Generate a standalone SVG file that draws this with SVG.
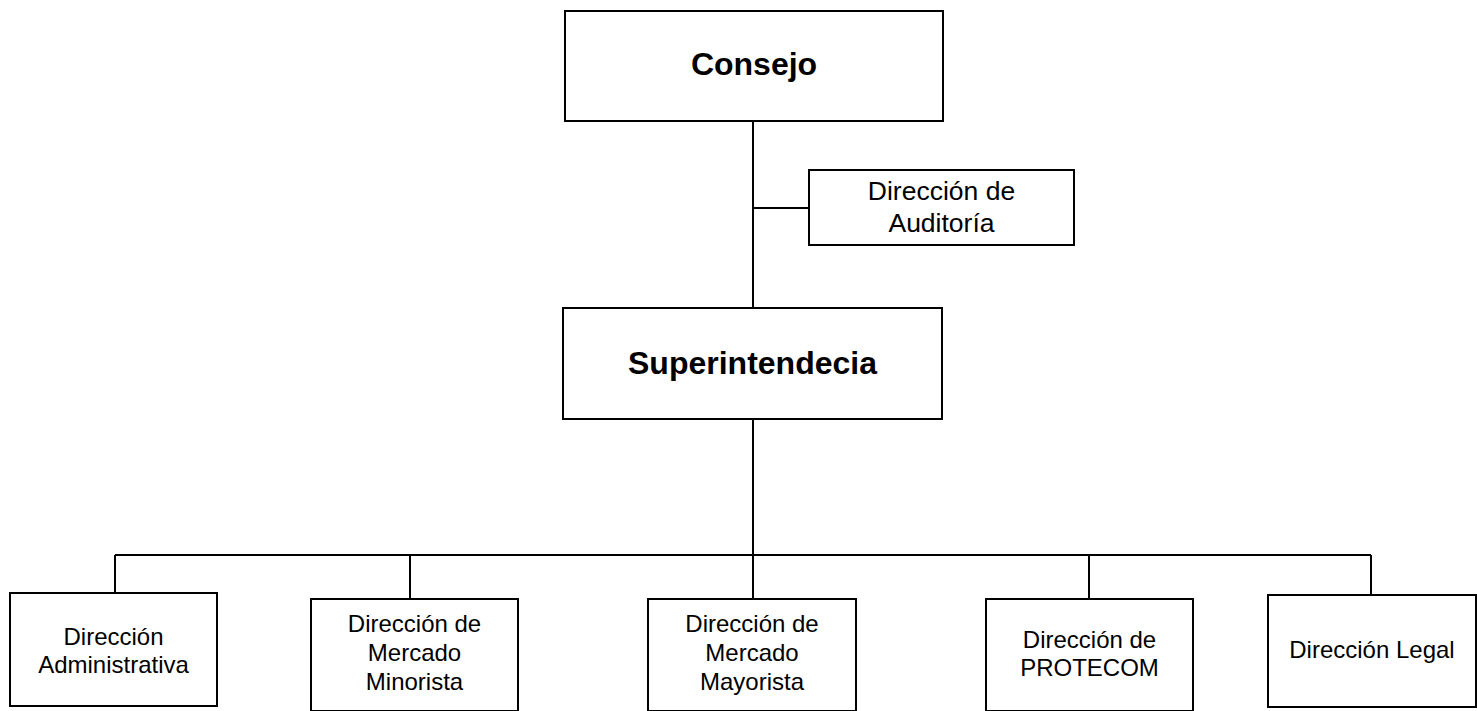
<svg xmlns="http://www.w3.org/2000/svg" width="1477" height="711" viewBox="0 0 1477 711">
<style>
.box{fill:#fff;stroke:#000;stroke-width:2}
.ln{stroke:#000;stroke-width:2;fill:none}
.t{font-family:"Liberation Sans",Arial,sans-serif;font-size:24px;text-anchor:middle;fill:#000}
.a{font-family:"Liberation Sans",Arial,sans-serif;font-size:26.5px;text-anchor:middle;fill:#000}
.b{font-family:"Liberation Sans",Arial,sans-serif;font-size:32px;font-weight:bold;text-anchor:middle;fill:#000}
</style>
<rect width="1477" height="711" fill="#fff"/>
<g id="connectors">
<path class="ln" d="M753 121V308"/>
<path class="ln" d="M753 208H809"/>
<path class="ln" d="M753 419V555"/>
<path class="ln" d="M115 555H1371"/>
<path class="ln" d="M115 555V593"/>
<path class="ln" d="M410 555V599"/>
<path class="ln" d="M753 555V599"/>
<path class="ln" d="M1089 555V599"/>
<path class="ln" d="M1371 555V595"/>
</g>
<g id="consejo">
<rect class="box" x="565" y="11" width="378" height="110"/>
<text class="b" x="754" y="75">Consejo</text>
</g>
<g id="auditoria">
<rect class="box" x="809" y="170" width="265" height="75"/>
<text class="a" x="941.5" y="200">Dirección de</text>
<text class="a" x="941.5" y="232">Auditoría</text>
</g>
<g id="superintendecia">
<rect class="box" x="563" y="308" width="379" height="111"/>
<text class="b" x="752.5" y="374">Superintendecia</text>
</g>
<g id="administrativa">
<rect class="box" x="10" y="593" width="207" height="113"/>
<text class="t" x="113.5" y="645">Dirección</text>
<text class="t" x="113.5" y="673">Administrativa</text>
</g>
<g id="minorista">
<rect class="box" x="311" y="599" width="207" height="112"/>
<text class="t" x="414.5" y="632">Dirección de</text>
<text class="t" x="414.5" y="661">Mercado</text>
<text class="t" x="414.5" y="690">Minorista</text>
</g>
<g id="mayorista">
<rect class="box" x="648" y="599" width="208" height="112"/>
<text class="t" x="752" y="632">Dirección de</text>
<text class="t" x="752" y="661">Mercado</text>
<text class="t" x="752" y="690">Mayorista</text>
</g>
<g id="protecom">
<rect class="box" x="986" y="599" width="207" height="112"/>
<text class="t" x="1089.5" y="648">Dirección de</text>
<text class="t" x="1089.5" y="676">PROTECOM</text>
</g>
<g id="legal">
<rect class="box" x="1268" y="595" width="208" height="112"/>
<text class="t" x="1372" y="658">Dirección Legal</text>
</g>
</svg>
